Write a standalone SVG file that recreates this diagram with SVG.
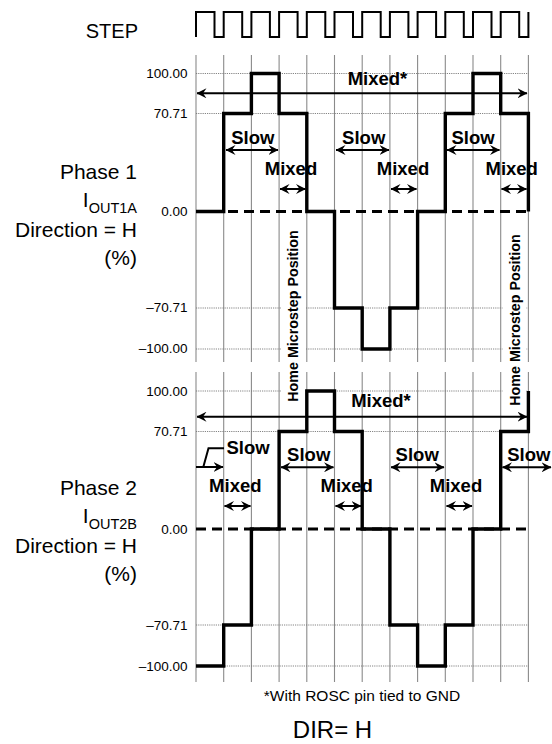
<svg xmlns="http://www.w3.org/2000/svg" width="552" height="744" viewBox="0 0 552 744">
<style>
text{font-family:"Liberation Sans",Arial,sans-serif;fill:#000}
.lbl{font-size:21px;text-anchor:end}
.ax{font-size:13.5px;text-anchor:end}
.b{font-size:18.5px;font-weight:bold;text-anchor:middle}
.home{font-size:14.3px;font-weight:bold;text-anchor:middle}
.grid{stroke:#8a8a8a;stroke-width:1.1;fill:none}
.dot{stroke:#777;stroke-width:0.9;stroke-dasharray:1.2 1;fill:none}
.zero{stroke:#000;stroke-width:3;stroke-dasharray:10 6;fill:none}
.wave{stroke:#000;stroke-width:3.4;fill:none;stroke-linejoin:miter}
.arr{stroke:#000;stroke-width:2;fill:none;marker-start:url(#ah);marker-end:url(#ah)}
.arr1{stroke:#000;stroke-width:2;fill:none;marker-end:url(#ah)}
.lead{stroke:#000;stroke-width:2;fill:none}
</style>
<defs>
<marker id="ah" viewBox="0 0 10 10" refX="9.5" refY="5" markerWidth="10" markerHeight="10" markerUnits="userSpaceOnUse" orient="auto-start-reverse">
<path d="M0,0 L10,5 L0,10 L3.5,5 z" fill="#000"/>
</marker>
</defs>

<g id="step">
<text x="138" y="37.5" style="font-size:20px;text-anchor:end">STEP</text>
<path class="wave" style="stroke-width:2" d="M196,37 V12 H214.5 V37 H223.7 V12 H242.2 V37 H251.4 V12 H269.9 V37 H279.1 V12 H297.6 V37 H306.8 V12 H325.3 V37 H334.5 V12 H353 V37 H362.2 V12 H380.7 V37 H389.9 V12 H408.4 V37 H417.6 V12 H436.1 V37 H445.3 V12 H463.8 V37 H473 V12 H491.5 V37 H500.7 V12 H519.2 V37 H528.4 V12"/>
</g>

<g id="grid">
<path class="grid" d="M196,55 V362 M223.7,55 V362 M251.4,55 V362 M279.1,55 V362 M306.8,55 V362 M334.5,55 V362 M362.2,55 V362 M389.9,55 V362 M417.6,55 V362 M445.3,55 V362 M473,55 V362 M500.7,55 V362 M528.4,55 V362"/>
<path class="grid" d="M196,372 V682 M223.7,372 V682 M251.4,372 V682 M279.1,372 V682 M306.8,372 V682 M334.5,372 V682 M362.2,372 V682 M389.9,372 V682 M417.6,372 V682 M445.3,372 V682 M473,372 V682 M500.7,372 V682 M528.4,372 V682"/>
<path class="dot" d="M196,73.5 H528.4 M196,113.5 H528.4 M196,308 H528.4 M196,349 H528.4"/>
<path class="dot" d="M196,391 H528.4 M196,431.5 H528.4 M196,625 H528.4 M196,666 H528.4"/>
</g>

<g id="home1">
<rect x="281" y="228" width="24" height="176" fill="#fff"/>
<text class="home" transform="translate(298,316) rotate(-90)">Home Microstep Position</text>
</g>
<g id="home2">
<rect x="502.5" y="231" width="24" height="177" fill="#fff"/>
<text class="home" transform="translate(520,320) rotate(-90)">Home Microstep Position</text>
</g>

<g id="phase1">
<text class="lbl" x="137" y="179.3">Phase 1</text>
<text class="lbl" x="137" y="206.7">I<tspan style="font-size:14.5px" dy="6">OUT1A</tspan></text>
<text class="lbl" x="137" y="236.7">Direction = H</text>
<text class="lbl" x="137" y="265">(%)</text>
<text class="ax" x="187.5" y="78">100.00</text>
<text class="ax" x="187.5" y="118">70.71</text>
<text class="ax" x="187.5" y="216">0.00</text>
<text class="ax" x="187.5" y="312">–70.71</text>
<text class="ax" x="187.5" y="353">–100.00</text>
<path class="zero" d="M196,211.5 H528.4"/>
<path class="wave" d="M196,211.5 H223.7 V113.5 H251.4 V73.5 H279.1 V113.5 H306.8 V211.5 H334.5 V308 H362.2 V349 H389.9 V308 H417.6 V211.5 H445.3 V113.5 H473 V73.5 H500.7 V113.5 H528.4 V211.5"/>
</g>

<g id="phase2">
<text class="lbl" x="137" y="495">Phase 2</text>
<text class="lbl" x="137" y="522.7">I<tspan style="font-size:14.5px" dy="6">OUT2B</tspan></text>
<text class="lbl" x="137" y="552.7">Direction = H</text>
<text class="lbl" x="137" y="580.5">(%)</text>
<text class="ax" x="187.5" y="395.5">100.00</text>
<text class="ax" x="187.5" y="436">70.71</text>
<text class="ax" x="187.5" y="533.5">0.00</text>
<text class="ax" x="187.5" y="629.5">–70.71</text>
<text class="ax" x="187.5" y="670.5">–100.00</text>
<path class="zero" d="M196,529 H528.4"/>
<path class="wave" d="M196,666 H223.7 V625 H251.4 V529 H279.1 V431.5 H306.8 V391 H334.5 V431.5 H362.2 V529 H389.9 V625 H417.6 V666 H445.3 V625 H473 V529 H500.7 V431.5 H528.4 V391"/>
</g>

<g id="connectors">
<line class="arr" x1="197" y1="93.3" x2="527" y2="93.3"/>
<line class="arr" x1="226" y1="150" x2="278" y2="150"/>
<line class="arr" x1="280" y1="189" x2="305.5" y2="189"/>
<line class="arr" x1="336" y1="150" x2="389" y2="150"/>
<line class="arr" x1="391" y1="189" x2="416.5" y2="189"/>
<line class="arr" x1="447" y1="150" x2="499.5" y2="150"/>
<line class="arr" x1="501.5" y1="189" x2="526.5" y2="189"/>

<line class="arr" x1="197" y1="416.7" x2="527" y2="416.7"/>
<line class="arr1" x1="196" y1="467" x2="223" y2="467"/>
<path class="lead" d="M203.3,467 L208.5,448.3 H224"/>
<line class="arr" x1="224.5" y1="506" x2="250.5" y2="506"/>
<line class="arr" x1="281" y1="467.3" x2="333.5" y2="467.3"/>
<line class="arr" x1="335.5" y1="506" x2="361" y2="506"/>
<line class="arr" x1="391" y1="467.3" x2="444" y2="467.3"/>
<line class="arr" x1="446.5" y1="506" x2="472" y2="506"/>
<line class="arr" x1="502.5" y1="467.3" x2="551" y2="467.3"/>
</g>

<g id="labels">
<text class="b" x="377.5" y="85">Mixed*</text>
<text class="b" x="252.8" y="144">Slow</text>
<text class="b" x="291" y="175">Mixed</text>
<text class="b" x="363.7" y="144">Slow</text>
<text class="b" x="403" y="175">Mixed</text>
<text class="b" x="473" y="144">Slow</text>
<text class="b" x="511.7" y="175">Mixed</text>

<text class="b" x="381" y="407.3">Mixed*</text>
<text class="b" x="248" y="454">Slow</text>
<text class="b" x="235.3" y="492.3">Mixed</text>
<text class="b" x="308.7" y="460.7">Slow</text>
<text class="b" x="346.7" y="492.3">Mixed</text>
<text class="b" x="417.2" y="460.7">Slow</text>
<text class="b" x="456" y="492.3">Mixed</text>
<text class="b" x="528.8" y="460.7">Slow</text>
</g>

<g id="footer">
<text x="362" y="700.5" style="font-size:15.5px;text-anchor:middle">*With ROSC pin tied to GND</text>
<text x="332.5" y="738" style="font-size:24px;text-anchor:middle">DIR= H</text>
</g>
</svg>
